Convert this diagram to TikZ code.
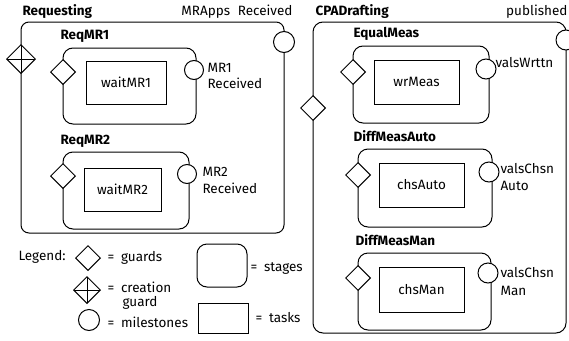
\documentclass[tikz,border=0pt]{standalone}
\usepackage{fontspec}
\setmainfont{Fira Sans}
\usetikzlibrary{shapes.geometric}
\begin{document}
\begin{tikzpicture}[x=1pt,y=-1pt,line width=1pt,
 stagebox/.style={draw, rounded corners=10pt, inner sep=0pt, outer sep=0pt, anchor=north west},
 taskbox/.style={draw, inner sep=0pt, outer sep=0pt, anchor=north west, font=\fontsize{13.5}{16}\selectfont},
 guard/.style={draw, diamond, fill=white, minimum width=25pt, minimum height=25pt, inner sep=0pt},
 cguard/.style={guard, minimum width=29pt, minimum height=29pt,
   path picture={\draw (path picture bounding box.north)--(path picture bounding box.south)
     (path picture bounding box.west)--(path picture bounding box.east);}},
 milestone/.style={draw, circle, fill=white, minimum size=20pt, inner sep=0pt},
 lbl/.style={anchor=base west, inner sep=0pt, font=\fontsize{13.5}{16}\selectfont},
 ttl/.style={anchor=base west, inner sep=0pt, font=\fontsize{13.5}{16}\selectfont\bfseries},
]
\clip (0,0) rectangle (569,340);
\useasboundingbox (0,0) rectangle (569,340);

% ---------- Requesting ----------
\node[ttl] (reqT) at (22,16) {Requesting};
\node[lbl, anchor=base east] (mrappsT) at (293,16) {MRApps\hspace{0.3em} Received};
\node[stagebox, minimum width=263pt, minimum height=211pt, rounded corners=8pt] (req) at (21,22) {};
\node[milestone, minimum size=21pt] (mrapps) at (284,42) {};
\node[cguard] (reqG) at (21,59) {};

% ReqMR1
\node[ttl] (rm1T) at (60,39) {ReqMR1};
\node[stagebox, minimum width=133pt, minimum height=76pt] (rm1) at (63,48) {};
\node[taskbox, minimum width=80pt, minimum height=43pt] (wmr1) at (86,61) {};
\node[lbl, anchor=center] (wmr1T) at (wmr1.center) {waitMR1};
\node[guard] (rm1G) at (63,72) {};
\node[milestone, minimum size=19pt] (rm1M) at (194,70) {};
\node[lbl] (rm1La) at (207,72) {MR1};
\node[lbl] (rm1Lb) at (207,88) {Received};

% ReqMR2
\node[ttl] (rm2T) at (60,144) {ReqMR2};
\node[stagebox, minimum width=126pt, minimum height=77pt] (rm2) at (63,152) {};
\node[taskbox, minimum width=77pt, minimum height=43pt] (wmr2) at (84,168) {};
\node[lbl, anchor=center] (wmr2T) at (wmr2.center) {waitMR2};
\node[guard] (rm2G) at (63,176) {};
\node[milestone, minimum size=19pt] (rm2M) at (187,174) {};
\node[lbl] (rm2La) at (202,176) {MR2};
\node[lbl] (rm2Lb) at (202,193) {Received};

% ---------- CPADrafting ----------
\node[ttl] (cpaT) at (315,16) {CPADrafting};
\node[lbl, anchor=base east] (pubT) at (568,16) {published};
\node[stagebox, minimum width=253pt, minimum height=311pt] (cpa) at (313,22) {};
\node[milestone] (pub) at (566,40) {};
\node[guard] (cpaG) at (313,108) {};

% EqualMeas
\node[ttl] (eqT) at (353,37) {EqualMeas};
\node[stagebox, minimum width=136pt, minimum height=77pt] (eq) at (353,46) {};
\node[taskbox, minimum width=85pt, minimum height=44pt] (wrm) at (374,60) {};
\node[lbl, anchor=center] (wrmT) at (wrm.center) {wrMeas};
\node[guard] (eqG) at (353,72) {};
\node[milestone] (eqM) at (486,69) {};
\node[lbl] (eqL) at (495,67) {valsWrttn};

% DiffMeasAuto
\node[ttl] (daT) at (353,141) {DiffMeasAuto};
\node[stagebox, minimum width=134pt, minimum height=78pt] (da) at (358,149) {};
\node[taskbox, minimum width=85pt, minimum height=44pt] (csa) at (379,163) {};
\node[lbl, anchor=center] (csaT) at (csa.center) {chsAuto};
\node[guard] (daG) at (358,175) {};
\node[milestone] (daM) at (489,172) {};
\node[lbl] (daLa) at (500,173) {valsChsn};
\node[lbl] (daLb) at (500,190) {Auto};

% DiffMeasMan
\node[ttl] (dmT) at (355,245) {DiffMeasMan};
\node[stagebox, minimum width=133pt, minimum height=77pt] (dm) at (358,253) {};
\node[taskbox, minimum width=85pt, minimum height=45pt] (csm) at (379,267) {};
\node[lbl, anchor=center] (csmT) at (csm.center) {chsMan};
\node[guard] (dmG) at (358,278) {};
\node[milestone] (dmM) at (488,273) {};
\node[lbl] (dmLa) at (500,277) {valsChsn};
\node[lbl] (dmLb) at (500,295) {Man};

% ---------- Legend ----------
\node[lbl] (legT) at (18,260) {Legend:};
\node[guard] (legG) at (88,258) {};
\node[lbl] (legGT) at (107,261) {=\hspace{0.5em}guards};
\node[cguard, minimum width=27pt, minimum height=27pt] (legC) at (87,290) {};
\node[lbl] (legCTa) at (107,292) {=\hspace{0.5em}creation};
\node[lbl] (legCTb) at (122,306) {guard};
\node[milestone, minimum size=21pt] (legM) at (89,320) {};
\node[lbl] (legMT) at (107,327) {=\hspace{0.5em}milestones};
\node[stagebox, minimum width=50pt, minimum height=43pt] (legS) at (197,244) {};
\node[lbl] (legST) at (250,271) {=\hspace{0.5em}stages};
\node[taskbox, minimum width=50pt, minimum height=30pt] (legTk) at (198,303) {};
\node[lbl] (legTkT) at (255,322) {=\hspace{0.5em}tasks};
\end{tikzpicture}
\end{document}
